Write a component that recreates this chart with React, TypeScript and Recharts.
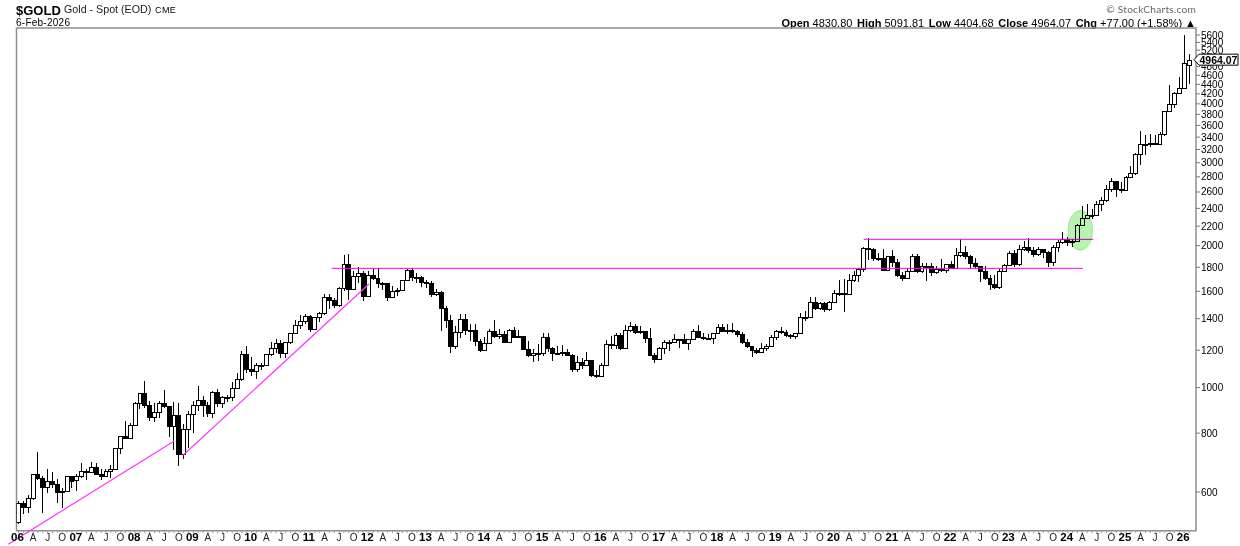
import {
  Bar,
  ComposedChart,
  ReferenceArea,
  ReferenceDot,
  ReferenceLine,
  XAxis,
  YAxis,
} from "recharts";

const opens = [
  517, 569, 557, 582, 654, 643, 614, 632, 624, 599, 604, 648,
  635, 650, 664, 662, 678, 656, 650, 665, 673, 743, 789, 783,
  834, 925, 972, 916, 864, 887, 926, 912, 830, 874, 724, 815,
  880, 919, 942, 916, 883, 979, 926, 954, 955, 996, 1040, 1179,
  1096, 1082, 1118, 1115, 1180, 1213, 1244, 1181, 1248, 1307, 1359, 1386,
  1421, 1333, 1411, 1439, 1556, 1536, 1500, 1628, 1826, 1622, 1722, 1746,
  1565, 1737, 1711, 1669, 1664, 1560, 1604, 1610, 1687, 1773, 1719, 1712,
  1675, 1663, 1578, 1595, 1472, 1393, 1224, 1313, 1396, 1327, 1323, 1253,
  1202, 1240, 1321, 1284, 1296, 1246, 1327, 1282, 1287, 1208, 1171, 1182,
  1184, 1279, 1213, 1183, 1184, 1190, 1172, 1095, 1133, 1115, 1142, 1065,
  1060, 1118, 1234, 1233, 1293, 1215, 1322, 1351, 1309, 1316, 1272, 1173,
  1152, 1211, 1249, 1249, 1268, 1269, 1242, 1269, 1321, 1280, 1271, 1275,
  1303, 1345, 1318, 1325, 1315, 1298, 1252, 1224, 1201, 1192, 1215, 1222,
  1282, 1321, 1313, 1292, 1283, 1305, 1409, 1413, 1520, 1472, 1513, 1464,
  1517, 1589, 1585, 1577, 1694, 1730, 1781, 1975, 1968, 1886, 1879, 1777,
  1898, 1847, 1734, 1708, 1769, 1906, 1770, 1814, 1813, 1757, 1783, 1774,
  1829, 1797, 1909, 1937, 1897, 1837, 1807, 1766, 1711, 1660, 1633, 1768,
  1824, 1928, 1826, 1969, 1990, 1962, 1919, 1965, 1940, 1849, 1984, 2036,
  2063, 2039, 2044, 2217, 2286, 2327, 2326, 2447, 2503, 2634, 2744, 2643,
  2624, 2798, 2857, 3123, 3289, 3289, 3303, 3290, 3447, 3858, 4002, 4220,
  4320, 4830.8,
];

const highs = [
  575, 575, 590, 655, 730, 650, 670, 660, 640, 613, 650, 650,
  655, 690, 672, 694, 690, 672, 672, 685, 745, 790, 848, 840,
  930, 975, 1033, 935, 925, 935, 988, 915, 930, 925, 835, 890,
  935, 1007, 960, 930, 985, 992, 960, 965, 1025, 1072, 1195, 1227,
  1162, 1128, 1127, 1180, 1249, 1266, 1262, 1251, 1307, 1388, 1424, 1432,
  1424, 1412, 1448, 1576, 1577, 1552, 1632, 1911, 1920, 1763, 1803, 1764,
  1764, 1791, 1790, 1676, 1668, 1641, 1625, 1695, 1787, 1795, 1754, 1723,
  1695, 1681, 1617, 1605, 1488, 1423, 1348, 1433, 1434, 1361, 1361, 1267,
  1280, 1332, 1392, 1331, 1315, 1332, 1345, 1323, 1287, 1255, 1208, 1238,
  1307, 1308, 1220, 1224, 1232, 1205, 1175, 1169, 1157, 1191, 1143, 1088,
  1128, 1263, 1287, 1304, 1303, 1359, 1375, 1367, 1352, 1318, 1338, 1183,
  1220, 1264, 1261, 1296, 1270, 1296, 1270, 1331, 1357, 1306, 1299, 1307,
  1366, 1362, 1365, 1369, 1326, 1309, 1265, 1224, 1214, 1243, 1236, 1291,
  1326, 1347, 1324, 1297, 1305, 1439, 1453, 1555, 1557, 1517, 1516, 1527,
  1612, 1689, 1703, 1739, 1765, 1789, 1984, 2075, 1973, 1933, 1966, 1906,
  1959, 1872, 1755, 1797, 1916, 1917, 1834, 1834, 1834, 1814, 1877, 1831,
  1853, 1974, 2070, 1998, 1910, 1879, 1815, 1807, 1735, 1730, 1786, 1833,
  1949, 1960, 2009, 2049, 2079, 1985, 1987, 1966, 1953, 2010, 2052, 2136,
  2088, 2065, 2222, 2431, 2450, 2387, 2484, 2531, 2685, 2790, 2721, 2725,
  2817, 2956, 3150, 3500, 3436, 3452, 3439, 3490, 3870, 4381, 4245, 4550,
  5595, 5091.81,
];

const lows = [
  514, 539, 540, 577, 638, 543, 596, 611, 570, 557, 600, 612,
  602, 640, 636, 657, 650, 638, 650, 642, 670, 723, 775, 782,
  830, 900, 905, 850, 844, 860, 905, 786, 735, 681, 705, 744,
  800, 890, 865, 865, 865, 910, 905, 931, 932, 990, 1030, 1075,
  1058, 1044, 1088, 1114, 1165, 1185, 1155, 1157, 1241, 1316, 1330, 1361,
  1308, 1330, 1381, 1420, 1462, 1478, 1480, 1603, 1534, 1604, 1667, 1523,
  1563, 1688, 1627, 1612, 1527, 1546, 1564, 1603, 1686, 1683, 1672, 1636,
  1627, 1554, 1562, 1321, 1338, 1180, 1207, 1276, 1292, 1251, 1221, 1187,
  1200, 1237, 1277, 1268, 1240, 1241, 1281, 1273, 1206, 1160, 1131, 1142,
  1167, 1190, 1142, 1175, 1170, 1162, 1077, 1080, 1098, 1113, 1053, 1046,
  1060, 1111, 1208, 1208, 1199, 1207, 1310, 1301, 1303, 1241, 1171, 1124,
  1146, 1181, 1195, 1241, 1214, 1237, 1204, 1261, 1272, 1261, 1265, 1236,
  1302, 1307, 1303, 1302, 1282, 1237, 1211, 1160, 1180, 1183, 1196, 1221,
  1265, 1302, 1281, 1266, 1268, 1301, 1382, 1400, 1459, 1459, 1445, 1455,
  1517, 1564, 1451, 1568, 1670, 1671, 1757, 1863, 1849, 1859, 1764, 1776,
  1802, 1717, 1677, 1706, 1766, 1751, 1750, 1677, 1721, 1746, 1760, 1753,
  1780, 1780, 1895, 1872, 1786, 1785, 1680, 1688, 1615, 1617, 1616, 1765,
  1824, 1804, 1809, 1950, 1932, 1893, 1903, 1884, 1810, 1810, 1932, 2010,
  2001, 1984, 2039, 2229, 2277, 2277, 2353, 2364, 2471, 2604, 2537, 2583,
  2614, 2833, 2833, 2957, 3121, 3247, 3268, 3269, 3430, 3886, 3930, 4190,
  4308, 4404.68,
];

const closes = [
  569, 557, 582, 654, 643, 614, 632, 624, 599, 604, 648, 632,
  650, 664, 663, 678, 656, 650, 665, 673, 743, 789, 783, 834,
  925, 972, 916, 864, 887, 926, 912, 830, 874, 724, 815, 880,
  919, 942, 916, 883, 979, 926, 954, 955, 996, 1040, 1179, 1096,
  1082, 1118, 1115, 1180, 1213, 1244, 1181, 1248, 1307, 1359, 1386, 1421,
  1333, 1411, 1439, 1556, 1536, 1500, 1628, 1826, 1622, 1722, 1746, 1565,
  1737, 1711, 1669, 1664, 1560, 1604, 1610, 1687, 1773, 1719, 1712, 1675,
  1663, 1578, 1595, 1472, 1393, 1224, 1313, 1396, 1327, 1323, 1253, 1202,
  1240, 1321, 1284, 1296, 1246, 1327, 1282, 1287, 1208, 1171, 1182, 1184,
  1279, 1213, 1183, 1184, 1190, 1172, 1095, 1133, 1115, 1142, 1065, 1060,
  1118, 1234, 1233, 1293, 1215, 1322, 1351, 1309, 1316, 1272, 1173, 1152,
  1211, 1249, 1249, 1268, 1269, 1242, 1269, 1321, 1280, 1271, 1275, 1303,
  1345, 1318, 1325, 1315, 1298, 1252, 1224, 1201, 1192, 1215, 1222, 1282,
  1321, 1313, 1292, 1283, 1305, 1409, 1413, 1520, 1472, 1513, 1464, 1517,
  1589, 1585, 1577, 1694, 1730, 1781, 1975, 1968, 1886, 1879, 1777, 1898,
  1847, 1734, 1708, 1769, 1906, 1770, 1814, 1813, 1757, 1783, 1774, 1829,
  1797, 1909, 1937, 1897, 1837, 1807, 1766, 1711, 1660, 1633, 1768, 1824,
  1928, 1826, 1969, 1990, 1962, 1919, 1965, 1940, 1849, 1984, 2036, 2063,
  2039, 2044, 2217, 2286, 2327, 2326, 2447, 2503, 2634, 2744, 2643, 2624,
  2798, 2857, 3123, 3289, 3289, 3303, 3290, 3447, 3858, 4002, 4220, 4320,
  4894, 4964.07,
];

const priceTicks = [
  600, 800, 1000, 1200, 1400, 1600, 1800, 2000, 2200, 2400, 2600, 2800, 3000,
  3200, 3400, 3600, 3800, 4000, 4200, 4400, 4600, 4800, 5000, 5200, 5400, 5600,
];

const monthLabels = ["", "", "", "A", "", "", "J", "", "", "O", "", ""];
const yearLabels = [
  "06", "07", "08", "09", "10", "11", "12", "13", "14", "15", "16",
  "17", "18", "19", "20", "21", "22", "23", "24", "25", "26",
];

// trend lines, [month index, price]
const lowerTrend = [[-2.1, 465], [32.08, 770]];
const upperTrend = [[33.93, 719], [72.16, 1658]];
const supportLine = { price: 1790, from: 64.5, to: 219.1 };
const resistanceLine = { price: 2063, from: 174, to: 221.3 };
const breakout = { month: 218.6, price: 2155 };
const lastClose = 4964.07;

const xDomain = [-0.41, 242.42];
const yDomain = [496.6, 5795];

const rows = closes.map((close, i) => ({
  i,
  open: opens[i],
  close,
  wick: [lows[i], highs[i]],
  body: [Math.min(opens[i], close), Math.max(opens[i], close)],
}));

const monthTicks = rows.map((r) => r.i);

const Wick = ({ x, y, width, height }: any) => (
  <rect
    x={Math.floor(x + width / 2)}
    y={Math.round(y)}
    width={1}
    height={Math.round(height)}
    fill="#000"
    shapeRendering="crispEdges"
  />
);

const Body = ({ x, y, width, height, payload }: any) => {
  const c = x + width / 2;
  const left = Math.floor(c - 1.95);
  const right = Math.floor(c + 1.95);
  const top = Math.round(y);
  const h = Math.max(Math.round(y + height) - top, 1);
  return (
    <rect
      x={left + 0.5}
      y={top + 0.5}
      width={right - left}
      height={h}
      fill={payload.close >= payload.open ? "#fff" : "#000"}
      stroke="#000"
      shapeRendering="crispEdges"
    />
  );
};

const MonthTick = ({ x, y, payload }: any) => {
  const i = payload.value;
  const year = i % 12 === 0;
  return (
    <g>
      <line x1={x} x2={x} y1={y + 1} y2={y + 2} stroke="#666" />
      {year ? (
        <text x={x - 1} y={y + 10} textAnchor="middle" fontSize={11.5} fontWeight="bold" fill="#000">
          {yearLabels[i / 12]}
        </text>
      ) : (
        <text x={x} y={y + 10} textAnchor="middle" fontSize={10} fill="#222">
          {monthLabels[i % 12]}
        </text>
      )}
    </g>
  );
};

// the last close is the final tick, so its tag paints over the other labels
const PriceTick = ({ x, y, payload }: any) => {
  const v = payload.value;
  if (v === lastClose) {
    return (
      <g>
        <polygon
          points={`${x - 2},${y} ${x + 3},${y - 5.5} ${x + 42},${y - 5.5} ${x + 42},${y + 5.5} ${x + 3},${y + 5.5}`}
          fill="#fff"
          stroke="#000"
        />
        <text x={x + 3.5} y={y + 4} fontSize={10.5} fontWeight="bold" fill="#000">
          {v.toFixed(2)}
        </text>
      </g>
    );
  }
  return (
    <g>
      <line x1={x} x2={x + 4} y1={y} y2={y} stroke="#777" />
      {v !== 5000 && (
        <text x={x + 5} y={y + 3.5} fontSize={10} fill="#000">
          {v}
        </text>
      )}
    </g>
  );
};

const GreenEllipse = ({ cx, cy }: any) => (
  <ellipse
    cx={cx}
    cy={cy}
    rx={12.3}
    ry={19.8}
    fill="#b9f3b2"
    stroke="#9aea90"
    style={{ mixBlendMode: "multiply" }}
  />
);

const absText = (left: number, top: number, extra: any) => ({
  position: "absolute" as const,
  left,
  top,
  whiteSpace: "nowrap" as const,
  ...extra,
});

const gap = { marginLeft: 4.6 };

export default function App() {
  return (
    <div
      style={{
        position: "absolute",
        left: 0,
        top: 0,
        width: 1240,
        height: 546,
        background: "#fff",
        fontFamily: "'Liberation Sans', Arial, sans-serif",
        color: "#000",
      }}
    >
      <span style={absText(16, 1.5, { fontSize: 13, lineHeight: "17px", fontWeight: "bold" })}>$GOLD</span>
      <span style={absText(64, 2, { fontSize: 10.7, lineHeight: "15px", color: "#222" })}>Gold - Spot (EOD)</span>
      <span style={absText(155, 3, { fontSize: 9, lineHeight: "14px", letterSpacing: 0.4 })}>CME</span>
      <span style={absText(16, 15.5, { fontSize: 10, lineHeight: "13px", letterSpacing: 0.25 })}>6-Feb-2026</span>
      <span
        style={{
          position: "absolute",
          right: 44,
          top: 2,
          fontSize: 10.2,
          lineHeight: "14px",
          color: "#666",
          fontFamily: "Lato, sans-serif",
          letterSpacing: 0.2,
          whiteSpace: "nowrap",
        }}
      >
        © StockCharts.com
      </span>
      <div
        style={{
          position: "absolute",
          right: 44,
          top: 15.5,
          fontSize: 11,
          lineHeight: "14px",
          whiteSpace: "nowrap",
        }}
      >
        <b>Open</b> 4830.80<b style={gap}>High</b> 5091.81<b style={gap}>Low</b> 4404.68
        <b style={gap}>Close</b> 4964.07<b style={gap}>Chg</b> +77.00 (+1.58%) ▲
      </div>
      <ComposedChart
        width={1240}
        height={546}
        data={rows}
        margin={{ top: 28, right: 0, bottom: 0, left: 16.5 }}
        style={{ position: "absolute", left: 0, top: 0 }}
      >
        <XAxis
          dataKey="i"
          type="number"
          domain={xDomain}
          ticks={monthTicks}
          interval={0}
          height={15.3}
          tickSize={0}
          tickMargin={0}
          tickLine={false}
          axisLine={false}
          tick={<MonthTick />}
          allowDataOverflow
        />
        <XAxis xAxisId="body" dataKey="i" type="number" domain={xDomain} hide allowDataOverflow />
        <YAxis
          orientation="right"
          scale="log"
          domain={yDomain}
          ticks={[...priceTicks, lastClose]}
          interval={0}
          width={44}
          tickSize={0}
          tickMargin={0}
          tick={<PriceTick />}
          tickLine={false}
          axisLine={false}
          allowDataOverflow
        />
        <Bar dataKey="wick" barSize={1} isAnimationActive={false} shape={<Wick />} />
        <Bar dataKey="body" xAxisId="body" barSize={3} isAnimationActive={false} shape={<Body />} />
        <ReferenceDot x={breakout.month} y={breakout.price} ifOverflow="visible" shape={<GreenEllipse />} />
        <ReferenceLine
          segment={lowerTrend.map(([x, y]) => ({ x, y }))}
          stroke="#ff33ff"
          strokeWidth={1.2}
          ifOverflow="visible"
        />
        <ReferenceLine
          segment={upperTrend.map(([x, y]) => ({ x, y }))}
          stroke="#ff33ff"
          strokeWidth={1.2}
          ifOverflow="visible"
        />
        <ReferenceLine
          segment={[
            { x: supportLine.from, y: supportLine.price },
            { x: supportLine.to, y: supportLine.price },
          ]}
          stroke="#ff00ff"
          strokeWidth={1}
          ifOverflow="visible"
        />
        <ReferenceLine
          segment={[
            { x: resistanceLine.from, y: resistanceLine.price },
            { x: resistanceLine.to, y: resistanceLine.price },
          ]}
          stroke="#ff00ff"
          strokeWidth={1}
          ifOverflow="visible"
        />
        <ReferenceArea
          x1={xDomain[0]}
          x2={xDomain[1]}
          y1={yDomain[0]}
          y2={yDomain[1]}
          fill="none"
          stroke="#8f8f8f"
          strokeWidth={1.5}
          ifOverflow="visible"
        />
      </ComposedChart>
    </div>
  );
}
